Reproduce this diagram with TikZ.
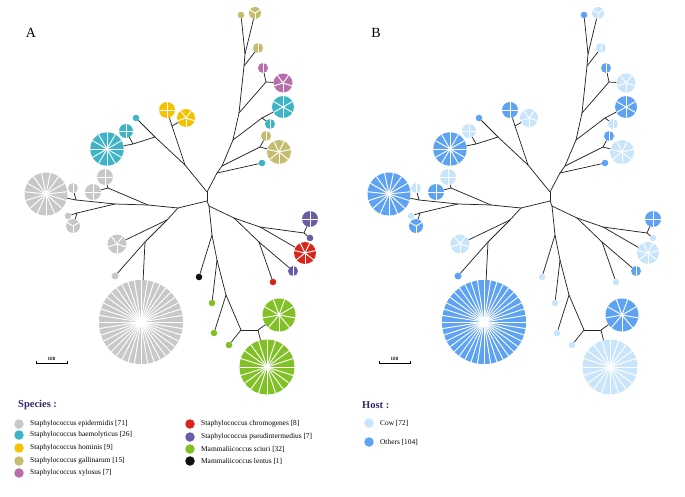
\documentclass[tikz,border=0pt]{standalone}
\usepackage{fontspec}
\setmainfont{Liberation Serif}
\usetikzlibrary{positioning}

\definecolor{cepi}{HTML}{C8C8C8}
\definecolor{chae}{HTML}{3DB5C6}
\definecolor{chom}{HTML}{F5C200}
\definecolor{cgal}{HTML}{C4BD6E}
\definecolor{cxyl}{HTML}{B86EAA}
\definecolor{cchr}{HTML}{D9261C}
\definecolor{cpse}{HTML}{6A5DA6}
\definecolor{csci}{HTML}{82C126}
\definecolor{clen}{HTML}{111111}
\definecolor{ccow}{HTML}{C9E5FB}
\definecolor{coth}{HTML}{5EA2F4}
\definecolor{ctitle}{HTML}{2E2A6B}

% one pie: name, centre, radius, slices, colour in A, colour in B
\newcommand\pienode[6]{%
  \node[pie, minimum size=#3*2pt, fill=\pick{#5}{#6}] (#1) at (#2) {};
  \ifnum#4>1\relax
    \foreach \k in {1,...,#4}
      \draw[slice] (#1.center) -- ++({90+\k*360/#4}:#3);
  \fi}

\newcommand\drawtree{%
  % junctions
  \coordinate (c1) at (207,201);
  \coordinate (c2) at (207,192);
  \coordinate (c3) at (209,206);
  \coordinate (t1) at (217,173);
  \coordinate (t2) at (222,166);
  \coordinate (t3) at (233,140);
  \coordinate (t4) at (239,113);
  \coordinate (t5) at (244,66);
  \coordinate (t6) at (245,54);
  \coordinate (t7) at (260,147);
  \coordinate (t8) at (262,118);
  \coordinate (t9) at (266,82);
  \coordinate (u1) at (185,165);
  \coordinate (u2) at (155,137);
  \coordinate (u3) at (172,126);
  \coordinate (u4) at (133,144);
  \coordinate (l1) at (178,208);
  \coordinate (l2) at (148,205);
  \coordinate (l3) at (115,204);
  \coordinate (l4) at (76,200);
  \coordinate (l5) at (77,213);
  \coordinate (l6) at (108,188);
  \coordinate (l7) at (167,220);
  \coordinate (l8) at (145,242);
  \coordinate (r1) at (234,218);
  \coordinate (r2) at (260,227);
  \coordinate (r3) at (304,233);
  \coordinate (r4) at (259,242);
  \coordinate (d1) at (212,235);
  \coordinate (d2) at (217,260);
  \coordinate (d3) at (226,295);
  \coordinate (d4) at (241,330);
  \coordinate (d5) at (258,330);
  % pies
  \pienode{gHuge}{141,322}{42}{40}{cepi}{coth}
  \pienode{gBig}{46,194}{21.5}{15}{cepi}{coth}
  \pienode{gSa}{73,188}{5}{2}{cepi}{ccow}
  \pienode{gTwo}{93,192}{8}{4}{cepi}{coth}
  \pienode{gFour}{105,177}{8}{4}{cepi}{ccow}
  \pienode{gSb}{68,216}{3.3}{1}{cepi}{ccow}
  \pienode{gTri}{73,226}{7}{3}{cepi}{coth}
  \pienode{gFive}{117,244}{9.5}{5}{cepi}{ccow}
  \pienode{gSc}{115,276}{3.5}{1}{cepi}{coth}
  \pienode{cBig}{107,149}{16.7}{12}{chae}{coth}
  \pienode{cFour}{126,131}{7}{4}{chae}{ccow}
  \pienode{cSa}{136,118}{3.3}{1}{chae}{coth}
  \pienode{cSix}{283,107}{11}{6}{chae}{coth}
  \pienode{cTwo}{270,124}{5}{2}{chae}{ccow}
  \pienode{cSb}{262,163}{3.3}{1}{chae}{coth}
  \pienode{yFour}{167,110}{8}{4}{chom}{coth}
  \pienode{yFive}{186,118}{9}{5}{chom}{ccow}
  \pienode{oS}{241,15}{3.3}{1}{cgal}{coth}
  \pienode{oTri}{255,13}{6}{3}{cgal}{ccow}
  \pienode{oTwoA}{258,48}{5}{2}{cgal}{ccow}
  \pienode{oTwoB}{266,136}{5}{2}{cgal}{coth}
  \pienode{oSeven}{279,152}{12}{7}{cgal}{ccow}
  \pienode{mTwo}{263,68}{5}{2}{cxyl}{coth}
  \pienode{mFive}{283,83}{9.5}{5}{cxyl}{ccow}
  \pienode{pFour}{310,219}{8}{4}{cpse}{coth}
  \pienode{pS}{310,238}{3.3}{1}{cpse}{ccow}
  \pienode{pTwo}{293,271}{5}{2}{cpse}{coth}
  \pienode{rSeven}{305,253}{11}{7}{cchr}{ccow}
  \pienode{rS}{273,282}{3.3}{1}{cchr}{ccow}
  \pienode{grNine}{279,315}{16.5}{9}{csci}{coth}
  \pienode{grBig}{267,367}{27.5}{20}{csci}{ccow}
  \pienode{grSa}{212,303}{3.3}{1}{csci}{ccow}
  \pienode{grSb}{214,333}{3.3}{1}{csci}{ccow}
  \pienode{grSc}{229,345}{3.3}{1}{csci}{ccow}
  \pienode{bk}{199,277}{3.3}{1}{clen}{ccow}
  % branches
  \foreach \s/\e in {c1/c2, c2/t1, t1/t2, t2/t3, t3/t4, t4/t5, t5/t6, t6/oS, t6/oTri,
      t5/oTwoA, t4/t9, t9/mTwo, t9/mFive, t3/t8, t8/cTwo, t8/cSix, t2/t7, t7/oTwoB,
      t7/oSeven, t1/cSb, c2/u1, u1/u2, u2/cSa, u1/u3, u3/yFour, u3/yFive, u2/u4,
      u4/cFour, u4/cBig, c1/l1, l1/l2, l2/l3, l3/l4, l4/gBig, l4/gSa, l3/l5, l5/gSb,
      l5/gTri, l2/l6, l6/gTwo, l6/gFour, l1/l7, l7/gFive, l7/l8, l8/gSc, l8/gHuge,
      c1/c3, c3/r1, r1/r2, r2/r3, r3/pFour, r3/pS, r2/rSeven, r1/r4, r4/pTwo, r4/rS,
      c3/d1, d1/bk, d1/d2, d2/grSa, d2/d3, d3/grSb, d3/d4, d4/grSc, d4/d5, d5/grNine,
      d5/grBig}
    \draw[edge] (\s) -- (\e);
  % scale bar
  \coordinate (sbl) at (36,363);
  \coordinate (sbr) at (67,363);
  \draw[scalebar] ([yshift=2pt]sbl) -- (sbl) -- (sbr) -- ([yshift=2pt]sbr);
  \node[sblabel] (sbtxt) at (51.5,359.3) {100};
}

\begin{document}
\begin{tikzpicture}[x=1pt, y=-1pt,
  pie/.style={circle, inner sep=0pt, draw=none},
  slice/.style={white, line width=0.95pt},
  edge/.style={black!85, line width=0.75pt},
  scalebar/.style={black, line width=0.8pt},
  sblabel/.style={inner sep=0pt, font=\sffamily\bfseries\fontsize{4.6}{5}\selectfont},
  legdot/.style={circle, inner sep=0pt, minimum size=9.5pt},
  legtxt/.style={inner sep=0pt, font=\fontsize{7.4}{8.5}\selectfont},
  legtitle/.style={inner sep=0pt, anchor=west, text=ctitle, font=\bfseries\fontsize{10.5}{12}\selectfont},
  panel/.style={font=\fontsize{14}{16}\selectfont}]
\useasboundingbox (0,0) rectangle (685,497);

\node[panel] (labA) at (31,33) {A};
\node[panel] (labB) at (376,33) {B};

\begin{scope}[name prefix=a-]
\def\pick#1#2{#1}
\drawtree
\end{scope}

\begin{scope}[name prefix=b-, xshift=343pt]
\def\pick#1#2{#2}
\drawtree
\end{scope}

% species
\node[legtitle] (species) at (18,405) {Species :};
\node[legdot, fill=cepi] (lepi) at (19,424) {};
\node[legtxt, right=6pt of lepi] (tepi) {Staphylococcus epidermidis [71]};
\node[legdot, fill=chae] (lhae) at (19,435) {};
\node[legtxt, right=6pt of lhae] (thae) {Staphylococcus haemolyticus [26]};
\node[legdot, fill=chom] (lhom) at (19,448) {};
\node[legtxt, right=6pt of lhom] (thom) {Staphylococcus hominis [9]};
\node[legdot, fill=cgal] (lgal) at (19,461) {};
\node[legtxt, right=6pt of lgal] (tgal) {Staphylococcus gallinarum [15]};
\node[legdot, fill=cxyl] (lxyl) at (19,473) {};
\node[legtxt, right=6pt of lxyl] (txyl) {Staphylococcus xylosus [7]};
\node[legdot, fill=cchr] (lchr) at (190,424) {};
\node[legtxt, right=6pt of lchr] (tchr) {Staphylococcus chromogenes [8]};
\node[legdot, fill=cpse] (lpse) at (190,437) {};
\node[legtxt, right=6pt of lpse] (tpse) {Staphylococcus pseudintermedius [7]};
\node[legdot, fill=csci] (lsci) at (190,449) {};
\node[legtxt, right=6pt of lsci] (tsci) {Mammaliicoccus sciuri [32]};
\node[legdot, fill=clen] (llen) at (190,461) {};
\node[legtxt, right=6pt of llen] (tlen) {Mammaliicoccus lentus [1]};

% host
\node[legtitle] (host) at (362,405) {Host :};
\node[legdot, fill=ccow] (lcow) at (369,423) {};
\node[legtxt, right=6pt of lcow] (tcow) {Cow [72]};
\node[legdot, fill=coth] (loth) at (369,442) {};
\node[legtxt, right=6pt of loth] (toth) {Others [104]};
\end{tikzpicture}
\end{document}
